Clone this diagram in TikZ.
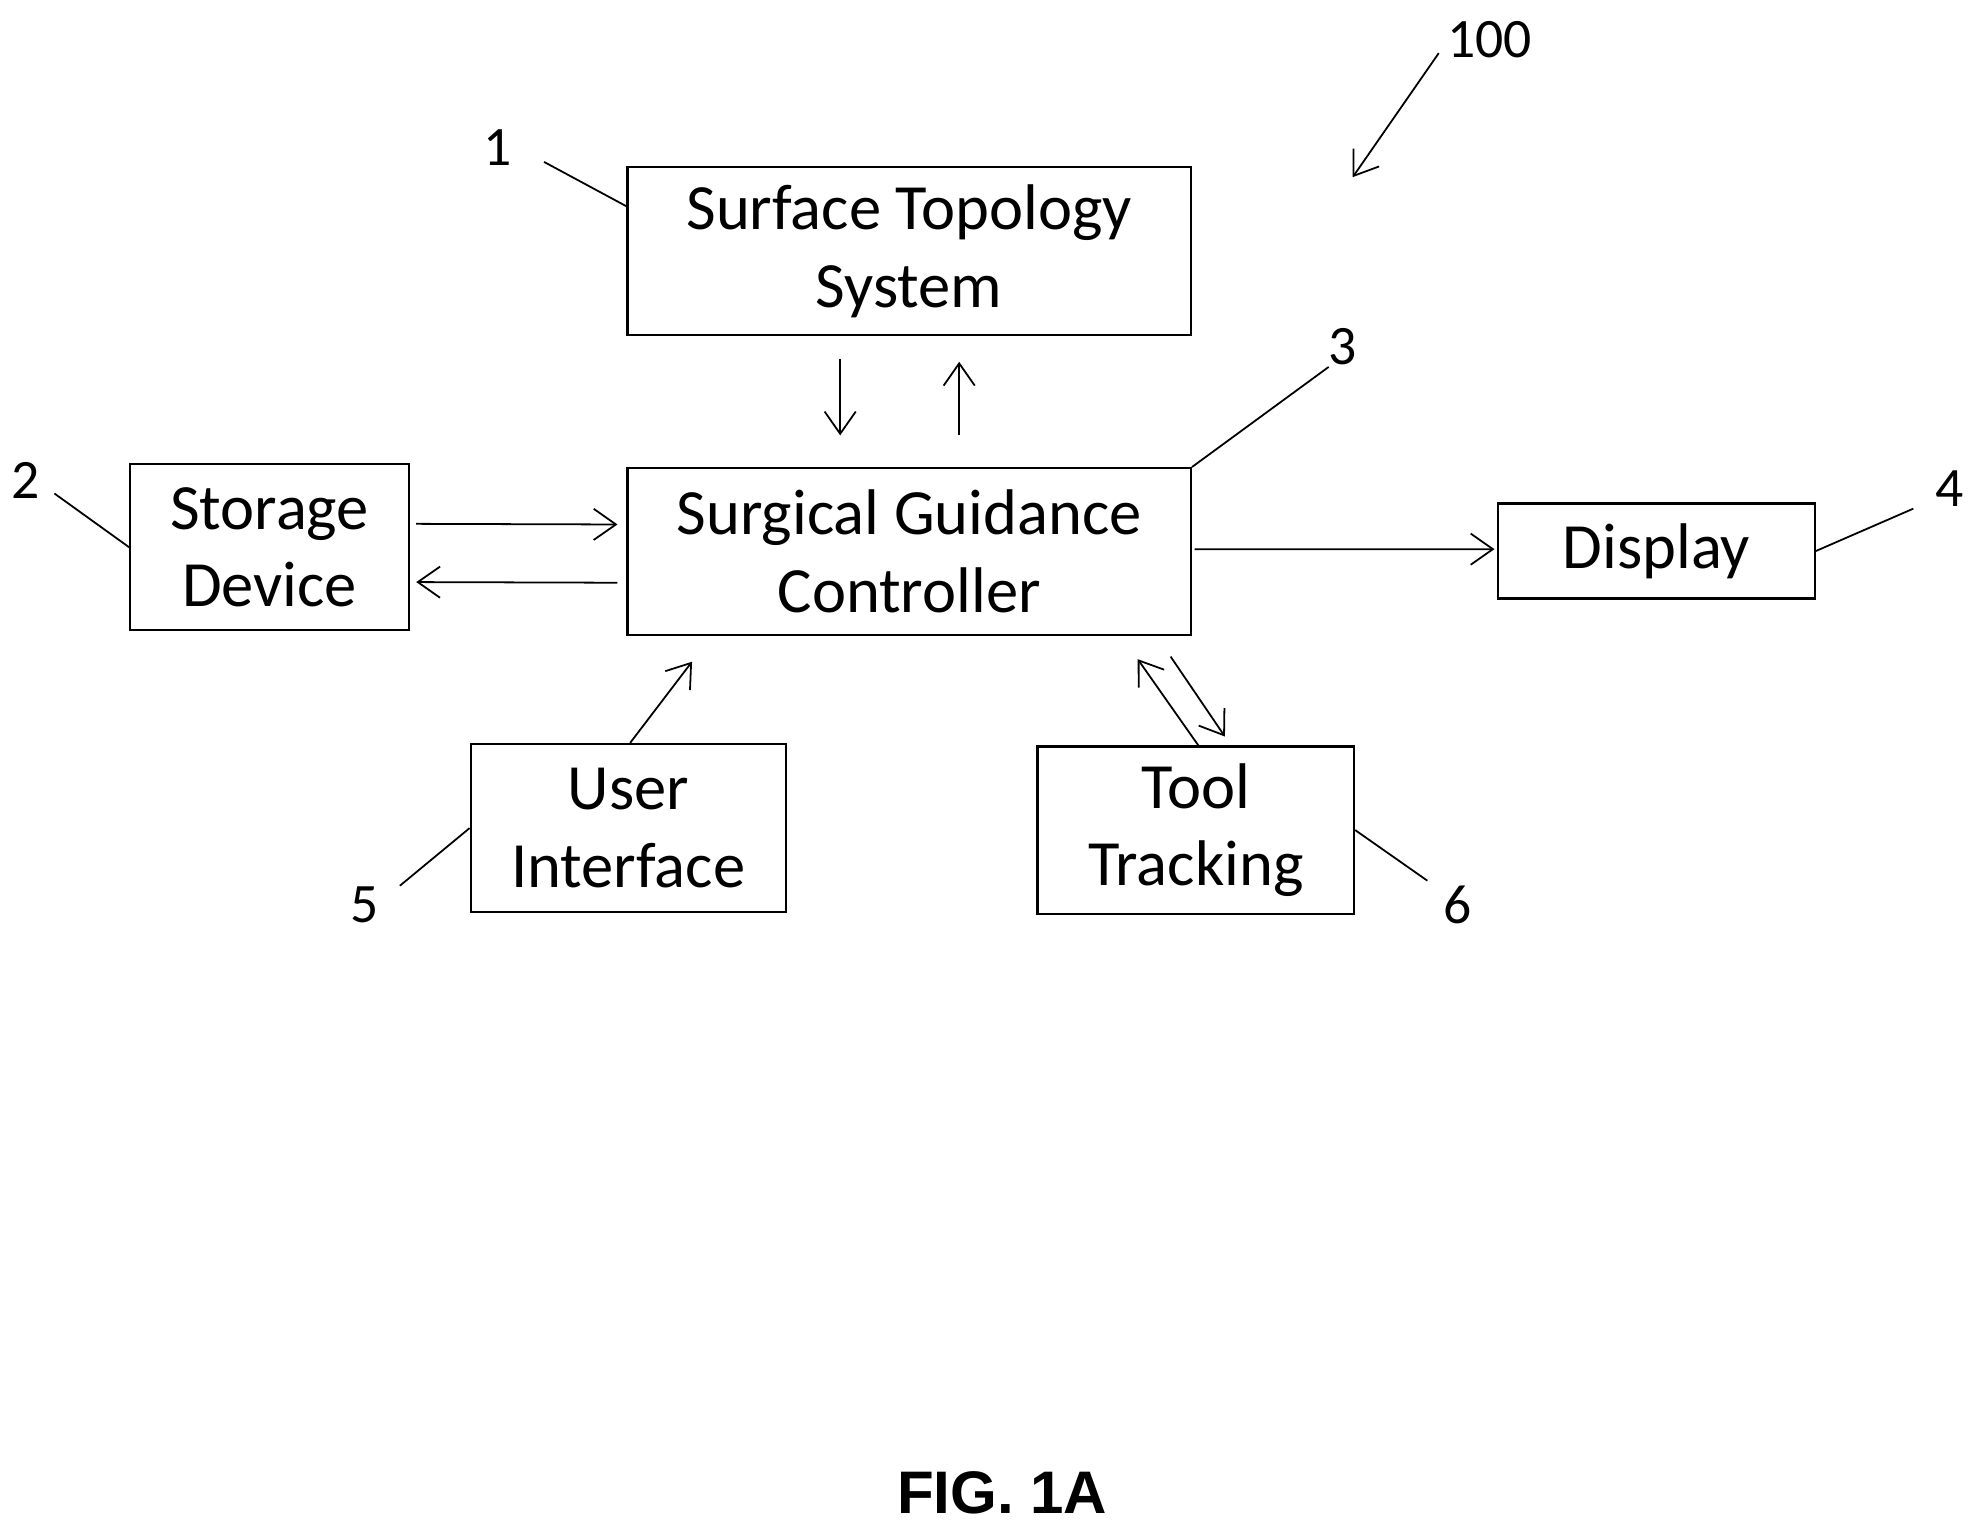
\documentclass[tikz,border=0pt]{standalone}
\usepackage{fontspec}
\setmainfont{Carlito}
\newfontfamily\figfont{Liberation Sans}
\usetikzlibrary{arrows.meta, positioning}

\begin{document}
\begin{tikzpicture}[x=0.01cm, y=-0.01cm,
    block/.style={rectangle, draw, line width=0.5pt, align=center, font=\fontsize{14.5}{17.5}\selectfont, inner sep=0pt},
    arrow/.style={-{Straight Barb[length=5pt, width=7pt]}, line width=0.4pt},
    leader/.style={line width=0.4pt},
    refnum/.style={font=\fontsize{12.5}{15}\selectfont}
]
    \useasboundingbox (0,0) rectangle (1560,1201);
    % Blocks
    \node[block, minimum width=4.45cm, minimum height=1.33cm] (surface) at (718.5,198.5) {Surface Topology\\System};
    \node[block, minimum width=4.45cm, minimum height=1.32cm] (controller) at (718.5,436) {Surgical Guidance\\Controller};
    \node[block, minimum width=2.2cm, minimum height=1.31cm] (storage) at (213,432.5) {Storage\\Device};
    \node[block, minimum width=2.5cm, minimum height=0.75cm] (display) at (1309,435.5) {Display};
    \node[block, minimum width=2.49cm, minimum height=1.33cm] (ui) at (496.5,654.5) {User\\Interface};
    \node[block, minimum width=2.5cm, minimum height=1.32cm] (tool) at (945,656) {Tool\\Tracking};

    % Reference numerals
    \node[refnum] (n1) at (393,117) {1};
    \node[refnum] (n2) at (20,380) {2};
    \node[refnum] (n3) at (1061,274) {3};
    \node[refnum] (n4) at (1541,386) {4};
    \node[refnum] (n5) at (288,715) {5};
    \node[refnum] (n6) at (1152,715) {6};
    \node[refnum] (n100) at (1177,31) {100};
    \coordinate (sys) at (1069,140);

    % Flow
    \draw[arrow] ([xshift=-0.545cm, yshift=-0.18cm]surface.south) -- ([xshift=-0.545cm, yshift=0.25cm]controller.north);
    \draw[arrow] ([xshift=0.395cm, yshift=0.25cm]controller.north) -- ([xshift=0.395cm, yshift=-0.2cm]surface.south);
    \draw[arrow] ([xshift=0.05cm, yshift=0.185cm]storage.east) -- ([xshift=-0.07cm, yshift=0.215cm]controller.west);
    \draw[arrow] ([xshift=-0.07cm, yshift=-0.245cm]controller.west) -- ([xshift=0.05cm, yshift=-0.275cm]storage.east);
    \draw[arrow] ([xshift=0.02cm, yshift=0.02cm]controller.east) -- ([xshift=-0.02cm, yshift=0.015cm]display.west);
    \draw[arrow] ([xshift=0.015cm]ui.north) -- ([xshift=-1.715cm, yshift=-0.2cm]controller.south);
    \draw[arrow] ([xshift=0.02cm]tool.north) -- ([xshift=1.805cm, yshift=-0.18cm]controller.south);
    \draw[arrow] ([xshift=2.065cm, yshift=-0.16cm]controller.south) -- ([xshift=0.23cm, yshift=0.07cm]tool.north);

    % Leader lines
    \draw[leader] (430,128) -- (surface.north west |- 0,163) ;
    \draw[leader] (43,390) -- (storage.west);
    \draw[leader] (1050,290) -- (controller.north east);
    \draw[leader] (1512,402) -- (display.east);
    \draw[leader] (316,700) -- (ui.west);
    \draw[leader] (1128,696) -- (tool.east);
    \draw[arrow] (1137,42) -- (sys);

    \node[font=\figfont\bfseries\fontsize{13.5}{16}\selectfont, inner sep=0pt] (caption) at (792,1180) {FIG. 1A};
\end{tikzpicture}
\end{document}
